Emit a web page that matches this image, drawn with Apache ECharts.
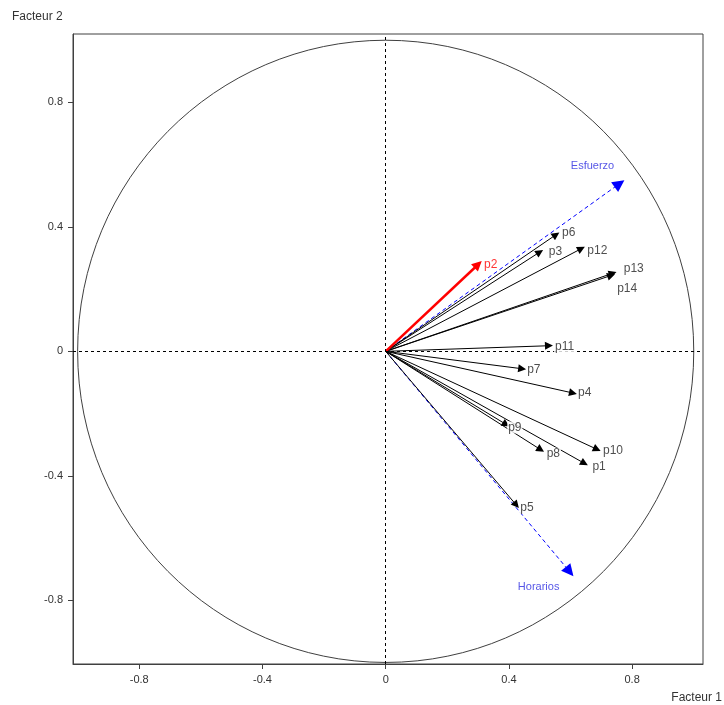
<!DOCTYPE html>
<html>
<head>
<meta charset="utf-8">
<script src="https://cdn.jsdelivr.net/npm/echarts@6/dist/echarts.min.js"></script>
<style>
  html, body { margin: 0; padding: 0; background: #fff; }
  #chart { width: 724px; height: 705px; }
</style>
</head>
<body>
<div id="chart"></div>
<script>
// active variables (coordinates on factors 1 and 2)
const vars = ['p1', 'p2', 'p3', 'p4', 'p5', 'p6', 'p7', 'p8', 'p9', 'p10', 'p11', 'p12', 'p13', 'p14']
const f1 = [0.645, 0.300, 0.500, 0.608, 0.424, 0.553, 0.443, 0.503, 0.391, 0.686, 0.530, 0.635, 0.737, 0.732]
const f2 = [-0.360, 0.279, 0.319, -0.134, -0.494, 0.375, -0.056, -0.316, -0.235, -0.315, 0.018, 0.330, 0.251, 0.244]

// supplementary variables
const supp = ['Esfuerzo', 'Horarios']
const suppF1 = [0.759, 0.597]
const suppF2 = [0.539, -0.708]

const ticks = [-0.8, -0.4, 0, 0.4, 0.8]
const circleRadius = 1
const highlighted = 'p2'

// label nudges (px) relative to the arrow tip
const labelOffset = {
  p1: [2, 3], p2: [0, 0], p3: [3, 0], p4: [-1, 0], p5: [-2, 3], p6: [0, -2], p7: [-1, 1],
  p8: [0, 4], p9: [-4, 3], p10: [0, 1], p11: [0, 1], p12: [0, 2], p13: [5, -5], p14: [0, 13],
  Esfuerzo: [-27, -18], Horarios: [-31, 15],
}

const font = 'Liberation Sans, Arial, sans-serif'
const chart = echarts.init(document.getElementById('chart'))

const axisCommon = {
  type: 'value',
  splitLine: { show: false },
  axisLine: { show: true, onZero: false, lineStyle: { color: '#404040', width: 1 } },
  axisTick: { show: true, length: 5, customValues: ticks, lineStyle: { color: '#404040' } },
  axisLabel: { customValues: ticks, color: '#333', fontSize: 11, fontFamily: font },
}

const blackIdx = vars.map((v, i) => i).filter((i) => vars[i] !== highlighted)
const redIdx = vars.map((v, i) => i).filter((i) => vars[i] === highlighted)

const arrow = (i) => ({ coords: [[0, 0], [f1[i], f2[i]]] })

chart.setOption({
  animation: false,
  backgroundColor: '#fff',
  grid: { left: 73, right: 21, top: 34, bottom: 41, show: true, borderColor: '#404040', borderWidth: 1 },
  xAxis: { ...axisCommon, min: -1.015, max: 1.03, axisLabel: { ...axisCommon.axisLabel, margin: 10 } },
  yAxis: { ...axisCommon, min: -1.005, max: 1.02, axisLabel: { ...axisCommon.axisLabel, margin: 10 } },
  graphic: [
    { type: 'text', left: 12, top: 11, style: { text: 'Facteur 2', fill: '#333', font: '12px ' + font } },
    { type: 'text', right: 2, top: 692, style: { text: 'Facteur 1', fill: '#333', font: '12px ' + font } },
  ],
  series: [
    {
      type: 'custom',
      silent: true,
      data: [[0, 0]],
      renderItem: (params, api) => {
        const c = api.coord([0, 0])
        const s = api.size([circleRadius, circleRadius])
        return {
          type: 'ellipse',
          shape: { cx: c[0], cy: c[1], rx: s[0], ry: s[1] },
          style: { fill: 'none', stroke: '#404040', lineWidth: 1 },
        }
      },
      markLine: {
        silent: true,
        symbol: 'none',
        label: { show: false },
        lineStyle: { color: '#000', type: [3, 3], width: 1 },
        data: [{ xAxis: 0 }, { yAxis: 0 }],
      },
    },
    {
      type: 'lines',
      coordinateSystem: 'cartesian2d',
      symbol: ['none', 'triangle'],
      symbolSize: 12,
      lineStyle: { color: '#0000ff', width: 1, type: [4, 3], opacity: 1 },
      itemStyle: { color: '#0000ff' },
      data: supp.map((s, i) => ({ coords: [[0, 0], [suppF1[i], suppF2[i]]] })),
      z: 2,
    },
    {
      type: 'lines',
      coordinateSystem: 'cartesian2d',
      symbol: ['none', 'triangle'],
      symbolSize: 8,
      lineStyle: { color: '#000', width: 1, opacity: 1 },
      itemStyle: { color: '#000' },
      data: blackIdx.map(arrow),
      z: 3,
    },
    {
      type: 'lines',
      coordinateSystem: 'cartesian2d',
      symbol: ['none', 'triangle'],
      symbolSize: 10,
      lineStyle: { color: '#ff0000', width: 2.5, opacity: 1 },
      itemStyle: { color: '#ff0000' },
      data: redIdx.map(arrow),
      z: 4,
    },
    {
      type: 'scatter',
      symbolSize: 0,
      silent: true,
      z: 5,
      data: vars.map((v, i) => ({
        value: [f1[i], f2[i]],
        name: v,
        label: {
          show: true,
          position: 'right',
          distance: 5,
          offset: labelOffset[v],
          formatter: v,
          color: v === highlighted ? '#ff0000' : '#222',
          backgroundColor: '#fff',
          padding: [0, 1],
          fontSize: 12,
          fontFamily: font,
        },
      })).concat(supp.map((s, i) => ({
        value: [suppF1[i], suppF2[i]],
        name: s,
        label: {
          show: true,
          position: 'inside',
          offset: labelOffset[s],
          formatter: s,
          color: '#2a2ae0',
          fontSize: 11,
          fontFamily: font,
        },
      }))),
    },
  ],
})
</script>
</body>
</html>
